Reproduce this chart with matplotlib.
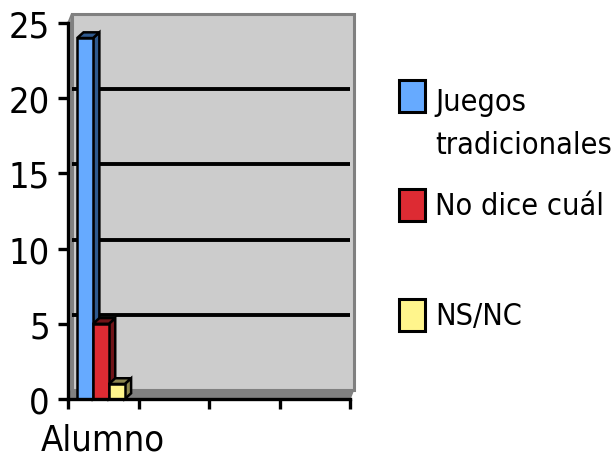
import matplotlib.pyplot as plt
from matplotlib.patches import Polygon, Rectangle

plt.rcParams['font.family'] = ['DejaVu Sans']
plt.rcParams['font.stretch'] = 'condensed'

# data
categories = ['Alumno']
series = ['Juegos\ntradicionales', 'No dice cuál', 'NS/NC']
values = [24, 5, 1]
front_colors = ['#66aaff', '#dd2b33', '#fff58c']
dark_colors = ['#2f5a8f', '#701418', '#8c8650']

W, H = 614, 464
fig = plt.figure(figsize=(W / 100, H / 100), dpi=100)
ax = fig.add_axes([68 / W, 1 - 400 / H, 282 / W, 376 / H])
ax.set_xlim(0, 4)
ax.set_ylim(0, 25)
ax.set_facecolor('none')

# 3d wall depth (data units)
wdx, wdy = 0.05, 0.6
# back wall, side wall, gridlines and floor
ax.add_patch(Polygon([(wdx, wdy), (4 + wdx, wdy), (4 + wdx, 25 + wdy), (wdx, 25 + wdy)],
                     closed=True, fc='#cccccc', ec='#808080', lw=2.2, clip_on=False, zorder=0))
ax.add_patch(Polygon([(0, 0), (wdx, wdy), (wdx, 25 + wdy), (0, 25)],
                     closed=True, fc='#999999', ec='#808080', lw=1, clip_on=False, zorder=0))
for v in [5, 10, 15, 20]:
    ax.plot([wdx, 4 + wdx], [v + wdy, v + wdy], color='black', lw=2.8, zorder=1,
            solid_capstyle='butt')
ax.add_patch(Polygon([(0, 0), (4, 0), (4 + wdx, wdy), (wdx, wdy)],
                     closed=True, fc='#808080', ec='#808080', lw=1, clip_on=False, zorder=1))

# 3d bars
bw = 0.225
bdx, bdy = 0.09, 0.38
x0 = 0.13
for i, v in enumerate(values):
    xl = x0 + i * bw
    xr = xl + bw
    side = Polygon([(xr, 0), (xr + bdx, bdy), (xr + bdx, v + bdy), (xr, v)],
                   closed=True, fc=dark_colors[i], ec='black', lw=1.8, zorder=3 + i, clip_on=False)
    top = Polygon([(xl, v), (xr, v), (xr + bdx, v + bdy), (xl + bdx, v + bdy)],
                  closed=True, fc=dark_colors[i], ec='black', lw=1.8, zorder=3 + i, clip_on=False)
    front = Rectangle((xl, 0), bw, v, fc=front_colors[i], ec='black', lw=1.8,
                      zorder=3 + i, clip_on=False)
    ax.add_patch(side)
    ax.add_patch(top)
    ax.add_patch(front)

# axes
for s in ['top', 'right']:
    ax.spines[s].set_visible(False)
for s in ['left', 'bottom']:
    ax.spines[s].set_linewidth(2.4)
    ax.spines[s].set_zorder(10)
ax.set_yticks([0, 5, 10, 15, 20, 25])
ax.tick_params(axis='y', length=7, width=2.4, pad=6, labelsize=26)
ax.set_xticks([0, 1, 2, 3, 4])
ax.set_xticklabels([])
ax.tick_params(axis='x', which='major', length=7, width=2.4)
ax.set_xticks([0.5], minor=True)
ax.set_xticklabels(categories, minor=True)
ax.tick_params(axis='x', which='minor', length=0, pad=17, labelsize=26)

# legend drawn by hand
sq = [(399, 81), (399, 190), (399, 300)]
ty = [124, 207, 317]
for i, name in enumerate(series):
    x, y = sq[i]
    fig.patches.append(Rectangle((x / W, 1 - (y + 32) / H), 26 / W, 32 / H,
                                 fc=front_colors[i], ec='black', lw=2.2,
                                 transform=fig.transFigure))
    fig.text(435 / W, 1 - ty[i] / H, name, ha='left', va='center', fontsize=22,
             linespacing=1.65)

fig.savefig('out.png', dpi=100)
